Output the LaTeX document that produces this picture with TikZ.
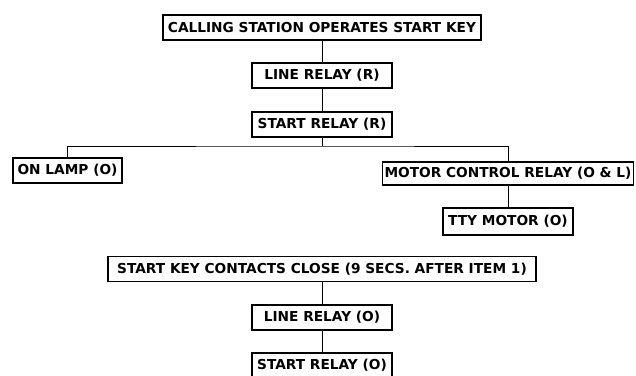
\documentclass[tikz,border=0pt]{standalone}
\usepackage{fontspec}
\setmainfont{DejaVu Sans}
\begin{document}
\begin{tikzpicture}[
    x=0.3mm, y=-0.3mm,
    every node/.style={font=\bfseries\fontsize{11.7}{13}\selectfont},
    box/.style={draw, line width=1.5pt, inner sep=1pt, minimum height=7.5mm},
    every path/.style={line width=0.8pt}
]
\useasboundingbox (0,0) rectangle (636,375);

\node (call)   [box, minimum width=95.4mm] at (322,27.5)  {CALLING STATION OPERATES START KEY};
\node (line1)  [box, minimum width=42mm]   at (322,75.5)  {LINE RELAY (R)};
\node (start1) [box, minimum width=42mm]   at (322,124.5) {START RELAY (R)};
\node (lamp)   [box, minimum width=32.7mm] at (67.5,170.5) {ON LAMP (O)};
\node (motor)  [box, minimum width=75.3mm, minimum height=6.9mm] at (508,173.5) {MOTOR CONTROL RELAY (O \& L)};
\node (tty)    [box, minimum width=39mm, minimum height=8.1mm]  at (508,221.5) {TTY MOTOR (O)};
\node (close)  [box, minimum width=128.4mm] at (322,269) {START KEY CONTACTS CLOSE (9 SECS. AFTER ITEM 1)};
\node (line2)  [box, minimum width=42mm]   at (322,317.5) {LINE RELAY (O)};
\node (start2) [box, minimum width=42mm]   at (322,365.5) {START RELAY (O)};

\coordinate (bus) at (322,146);

% Edges
\draw (call) -- (line1);
\draw (line1) -- (start1);
\draw (start1) -- (bus);
\draw (lamp.north) |- (bus) -| (motor.north);
\draw (motor) -- (tty);

\draw (close) -- (line2);
\draw (line2) -- (start2);

\end{tikzpicture}
\end{document}
